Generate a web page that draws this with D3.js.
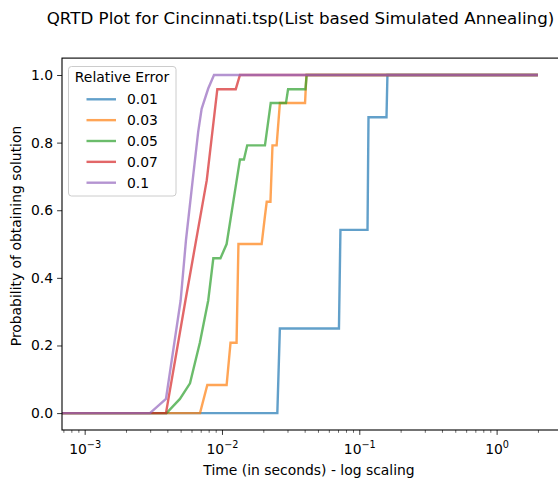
<!DOCTYPE html>
<html>
<head>
<meta charset="utf-8">
<script src="https://cdn.jsdelivr.net/npm/d3@7"></script>
<style>
  html, body { margin: 0; padding: 0; background: #fff; }
  svg { display: block; font-family: "DejaVu Sans", sans-serif; }
</style>
</head>
<body>
<svg id="chart" width="558" height="482"></svg>
<script>
// Relative error levels shown in the legend
const errorLevels = ["0.01", "0.03", "0.05", "0.07", "0.1"];
const seriesColors = ["#1f77b4", "#ff7f0e", "#2ca02c", "#d62728", "#9467bd"];

// Run-time (s) / solved-fraction vertices for each error level.
// The first vertex stands for t = 0, which sits off the left edge of the log axis.
const times001 = [1e-4, 0.0253, 0.0264, 0.0711, 0.0729, 0.1148, 0.1167, 0.1578, 0.1603, 2.0];
const probs001 = [0, 0, 0.25, 0.25, 0.542, 0.542, 0.875, 0.875, 1, 1];

const times003 = [1e-4, 0.00692, 0.00782, 0.01081, 0.01154, 0.01277, 0.01318, 0.01945, 0.02056, 0.02118, 0.02254, 0.02333, 0.0250, 0.02641, 0.04027, 0.04119, 2.0];
const probs003 = [0, 0, 0.083, 0.083, 0.208, 0.208, 0.5, 0.5, 0.583, 0.625, 0.625, 0.792, 0.792, 0.917, 0.917, 1, 1];

const times005 = [1e-4, 0.00395, 0.00494, 0.00585, 0.0069, 0.00794, 0.00865, 0.00975, 0.01081, 0.0128, 0.01352, 0.01445, 0.01527, 0.02056, 0.02265, 0.02924, 0.03029, 0.04055, 0.0414, 2.0];
const probs005 = [0, 0, 0.042, 0.088, 0.208, 0.333, 0.458, 0.458, 0.5, 0.689, 0.75, 0.75, 0.792, 0.792, 0.917, 0.917, 0.958, 0.958, 1, 1];

const times007 = [1e-4, 0.00391, 0.00542, 0.00775, 0.00925, 0.0126, 0.01352, 2.0];
const probs007 = [0, 0, 0.333, 0.689, 0.958, 0.958, 1, 1];

const times01 = [1e-4, 0.00299, 0.00391, 0.0050, 0.00547, 0.00612, 0.00671, 0.00711, 0.00794, 0.00875, 2.0];
const probs01 = [0, 0, 0.042, 0.333, 0.512, 0.689, 0.832, 0.9, 0.96, 1, 1];

// Axis ticks
const xMajorTicks = [1e-3, 1e-2, 1e-1, 1e0];
const xMajorExponents = ["\u22123", "\u22122", "\u22121", "0"];
const xMinorTicks = [7e-4, 8e-4, 9e-4,
  2e-3, 3e-3, 4e-3, 5e-3, 6e-3, 7e-3, 8e-3, 9e-3,
  2e-2, 3e-2, 4e-2, 5e-2, 6e-2, 7e-2, 8e-2, 9e-2,
  2e-1, 3e-1, 4e-1, 5e-1, 6e-1, 7e-1, 8e-1, 9e-1,
  2, 3];
const yTicks = [0, 0.2, 0.4, 0.6, 0.8, 1.0];

const titleText = "QRTD Plot for Cincinnati.tsp(List based Simulated Annealing)";
const xLabelText = "Time (in seconds) - log scaling";
const yLabelText = "Probability of obtaining solution";
const legendTitle = "Relative Error";

const seriesTimes = [times001, times003, times005, times007, times01];
const seriesProbs = [probs001, probs003, probs005, probs007, probs01];

// Layout
const plot = { left: 62, right: 560.6, top: 58.1, bottom: 430 };
const svg = d3.select("#chart");

const x = d3.scaleLog()
  .domain([Math.pow(10, -3.165), Math.pow(10, 0.466)])
  .range([plot.left, plot.right]);
const y = d3.scaleLinear()
  .domain([-0.05, 1.05])
  .range([plot.bottom, plot.top]);

svg.append("defs").append("clipPath").attr("id", "plotClip")
  .append("rect")
  .attr("x", plot.left).attr("y", plot.top)
  .attr("width", plot.right - plot.left).attr("height", plot.bottom - plot.top);

// Title
svg.append("text")
  .attr("x", 300.5).attr("y", 24)
  .attr("text-anchor", "middle")
  .attr("font-size", "16.7px")
  .attr("fill", "#000")
  .text(titleText);

// Series lines
const line = d3.line()
  .x(d => x(d[0]))
  .y(d => y(d[1]));

const linesG = svg.append("g").attr("clip-path", "url(#plotClip)");
seriesTimes.forEach((ts, i) => {
  const pts = ts.map((t, k) => [t, seriesProbs[i][k]]);
  linesG.append("path")
    .datum(pts)
    .attr("d", line)
    .attr("fill", "none")
    .attr("stroke", seriesColors[i])
    .attr("stroke-opacity", 0.7)
    .attr("stroke-width", 2.4)
    .attr("stroke-linejoin", "miter");
});

// Bottom axis: major ticks with power-of-ten labels, then minor ticks
const xAxisG = svg.append("g")
  .attr("transform", `translate(0,${plot.bottom})`)
  .call(d3.axisBottom(x).tickValues(xMajorTicks).tickSize(4.9).tickPadding(4).tickFormat(() => ""));
xAxisG.select(".domain").remove();
xAxisG.selectAll(".tick line").attr("stroke", "#000").attr("stroke-width", 0.8);
xAxisG.selectAll(".tick text")
  .attr("font-size", "13.9px")
  .attr("font-family", "DejaVu Sans, sans-serif")
  .attr("fill", "#000")
  .attr("dy", null)
  .attr("y", 24)
  .each(function (d, i) {
    const t = d3.select(this);
    t.append("tspan").text("10");
    t.append("tspan").attr("dy", -6).attr("font-size", "9.7px").text(xMajorExponents[i]);
  });

const xMinorG = svg.append("g")
  .attr("transform", `translate(0,${plot.bottom})`)
  .call(d3.axisBottom(x).tickValues(xMinorTicks).tickSize(2.8).tickFormat(() => ""));
xMinorG.select(".domain").remove();
xMinorG.selectAll(".tick line").attr("stroke", "#000").attr("stroke-width", 0.6);
xMinorG.selectAll(".tick").filter(d => x(d) < plot.left || x(d) > plot.right).remove();

// Left axis
const yAxisG = svg.append("g")
  .attr("transform", `translate(${plot.left},0)`)
  .call(d3.axisLeft(y).tickValues(yTicks).tickSize(4.9).tickPadding(4).tickFormat(d3.format(".1f")));
yAxisG.select(".domain").remove();
yAxisG.selectAll(".tick line").attr("stroke", "#000").attr("stroke-width", 0.8);
yAxisG.selectAll(".tick text")
  .attr("font-size", "13.9px")
  .attr("font-family", "DejaVu Sans, sans-serif")
  .attr("fill", "#000");

// Frame
svg.append("rect")
  .attr("x", plot.left).attr("y", plot.top)
  .attr("width", plot.right - plot.left).attr("height", plot.bottom - plot.top)
  .attr("fill", "none")
  .attr("stroke", "#000")
  .attr("stroke-width", 1.1);

// Axis labels
svg.append("text")
  .attr("x", 309).attr("y", 474.5)
  .attr("text-anchor", "middle")
  .attr("font-size", "13.9px")
  .attr("fill", "#000")
  .text(xLabelText);

svg.append("text")
  .attr("transform", "translate(20.5,236) rotate(-90)")
  .attr("text-anchor", "middle")
  .attr("font-size", "13.9px")
  .attr("fill", "#000")
  .text(yLabelText);

// Legend
const legend = svg.append("g");
legend.append("rect")
  .attr("x", 68.5).attr("y", 66.5)
  .attr("width", 107.5).attr("height", 129.5)
  .attr("rx", 3).attr("ry", 3)
  .attr("fill", "#fff").attr("fill-opacity", 0.8)
  .attr("stroke", "#cccccc").attr("stroke-width", 1);
legend.append("text")
  .attr("x", 122).attr("y", 82)
  .attr("text-anchor", "middle")
  .attr("font-size", "13.9px")
  .attr("fill", "#000")
  .text(legendTitle);
errorLevels.forEach((lvl, i) => {
  const ly = 99.3 + i * 20.85;
  legend.append("line")
    .attr("x1", 86.5).attr("x2", 116)
    .attr("y1", ly).attr("y2", ly)
    .attr("stroke", seriesColors[i])
    .attr("stroke-opacity", 0.7)
    .attr("stroke-width", 2.4);
  legend.append("text")
    .attr("x", 127).attr("y", ly + 5)
    .attr("font-size", "13.9px")
    .attr("fill", "#000")
    .text(lvl);
});
</script>
</body>
</html>
